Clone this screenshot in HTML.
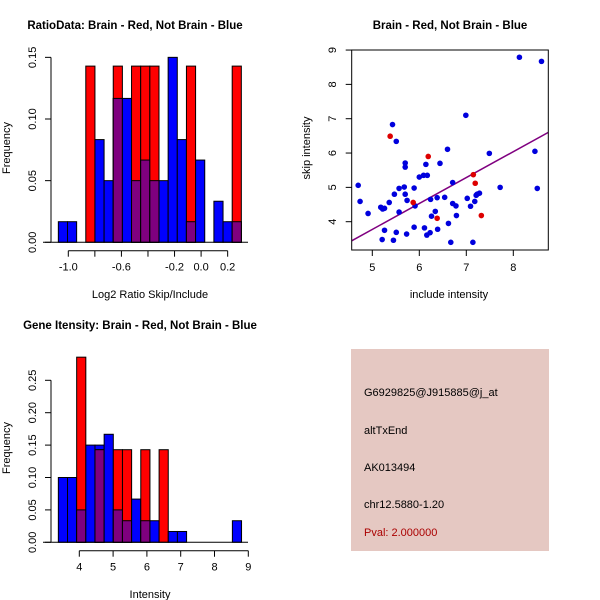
<!DOCTYPE html>
<html><head><meta charset="utf-8"><style>
body{margin:0;background:#fff}
svg{display:block;font-family:"Liberation Sans",sans-serif}
</style></head><body>
<svg id="s" width="600" height="600" xmlns="http://www.w3.org/2000/svg">
<rect width="600" height="600" fill="#fff"/>
<rect x="351" y="349" width="198" height="202" fill="#e5c8c2"/>
<g font-size="11" fill="#000">
<text x="364" y="396">G6929825@J915885@j_at</text>
<text x="364" y="434">altTxEnd</text>
<text x="364" y="471">AK013494</text>
<text x="364" y="508">chr12.5880-1.20</text>
<text x="364" y="536" fill="#aa0000">Pval: 2.000000</text>
</g>
</svg>
<script>
// Ratio histogram data
const ratioStart = -1.075, ratioWidth = 0.0689;
const ratioBlue = [0.0167,0.0167,0,0,0.0833,0.05,0.1167,0.1167,0.05,0.0667,0.05,0.05,0.15,0.0833,0.0167,0.0667,0,0.0333,0.0167,0.0167];
const ratioRed  = [0,0,0,0.1429,0,0,0.1429,0,0.1429,0.1429,0.1429,0,0,0,0.1429,0,0,0,0,0.1429];
const ratioXTicks = [-1.0,-0.8,-0.6,-0.4,-0.2,0.0,0.2];
const ratioXLabels = ["-1.0","","-0.6","","-0.2","0.0","0.2"];
const ratioYTicks = [0,0.05,0.10,0.15];
const ratioYLabels = ["0.00","0.05","0.10","0.15"];
// Intensity histogram data
const intStart = 3.38, intWidth = 0.271;
const intBlue = [0.1,0.1,0.05,0.15,0.15,0.1667,0.05,0.0333,0.0667,0.0333,0.0333,0,0.0167,0.0167,0,0,0,0,0,0.0333];
const intRed  = [0,0,0.2857,0,0.1429,0,0.1429,0.1429,0,0.1429,0,0.1429,0,0,0,0,0,0,0,0];
const intXTicks = [4,5,6,7,8,9];
const intYTicks = [0,0.05,0.10,0.15,0.20,0.25];
const intYLabels = ["0.00","0.05","0.10","0.15","0.20","0.25"];
// Scatter data
const blueX = [4.70,4.74,4.91,5.18,5.22,5.26,5.36,5.47,5.57,5.57,5.68,5.70,5.70,5.70,5.74,5.73,5.89,5.89,5.91,6.00,6.09,6.14,6.17,6.16,6.11,6.23,6.24,6.26,6.34,6.38,6.39,6.44,6.54,6.60,6.62,6.67,6.71,6.71,6.78,6.79,6.99,7.02,7.09,7.18,7.21,7.23,7.28,7.49,7.72,8.13,8.46,8.51,8.60,5.43,5.51,5.21,5.26,5.51,5.45,7.14];
const blueY = [5.06,4.59,4.24,4.42,4.37,4.39,4.56,4.80,4.28,4.97,5.01,4.80,5.59,5.71,4.62,3.64,4.98,3.84,4.46,5.30,5.35,5.67,5.35,3.61,3.82,3.68,4.65,4.16,4.30,4.70,3.78,5.70,4.71,6.11,3.95,3.40,5.14,4.53,4.46,4.18,7.10,4.68,4.45,4.59,4.77,4.80,4.83,5.99,5.00,8.79,6.05,4.97,8.67,6.83,6.34,3.48,3.75,3.69,3.46,3.40];
const redX = [5.38,6.19,5.87,6.38,7.15,7.19,7.32];
const redY = [6.49,5.90,4.56,4.10,5.37,5.12,4.18];
const fitIntercept = 0.0, fitSlope = 0.755;
const scXTicks = [5,6,7,8];
const scYTicks = [4,5,6,7,8,9];

const NS="http://www.w3.org/2000/svg", svg=document.getElementById('s');
function mk(t,a,p){const e=document.createElementNS(NS,t);for(const k in a)e.setAttribute(k,a[k]);(p||svg).appendChild(e);return e;}
function txt(p,x,y,s,o){const e=mk('text',Object.assign({x:x,y:y,'font-size':11,'text-anchor':'middle'},o||{}),p);e.textContent=s;return e;}

function hist(g,sx,sy,start,w,blue,red){
  for(let i=0;i<blue.length;i++){
    const a=start+i*w,b=a+w,bv=blue[i],rv=red[i];
    if(bv>0){const r=mk('rect',{x:sx(a),y:sy(bv),width:sx(b)-sx(a),height:sy(0)-sy(bv),fill:'#0000ff',stroke:'#000','stroke-width':1},g);
      
      }
    if(rv>0){const r=mk('rect',{x:sx(a),y:sy(rv),width:sx(b)-sx(a),height:sy(0)-sy(rv),fill:'#ff0000',stroke:'#000','stroke-width':1},g);
      
      }
    const m=Math.min(bv,rv);
    if(m>0){const r=mk('rect',{x:sx(a),y:sy(m),width:sx(b)-sx(a),height:sy(0)-sy(m),fill:'#7f007f',stroke:'#000','stroke-width':1},g);
      
      }
  }
  mk('line',{x1:43,x2:248,y1:sy(0),y2:sy(0),stroke:'#000'},g);
}
function yaxis(g,sy,x,ticks,labels){
  mk('line',{x1:x,x2:x,y1:sy(ticks[0]),y2:sy(ticks[ticks.length-1]),stroke:'#000'},g);
  ticks.forEach((t,i)=>{mk('line',{x1:x,x2:x-6,y1:sy(t),y2:sy(t),stroke:'#000'},g);
    txt(g,x-15,sy(t),labels[i],{transform:`rotate(-90 ${x-15} ${sy(t)})`});});
}
function xaxis(g,sx,y,ticks,labels){
  mk('line',{x1:sx(ticks[0]),x2:sx(ticks[ticks.length-1]),y1:y,y2:y,stroke:'#000'},g);
  ticks.forEach((t,i)=>{mk('line',{x1:sx(t),x2:sx(t),y1:y,y2:y+6,stroke:'#000'},g);txt(g,sx(t),y+20,labels[i]);});
}

// Panel 1
{const g=mk('g',{});
 const sx=v=>68.3+(v+1.0)*132.8, sy=v=>242.3-v*1233;
 hist(g,sx,sy,ratioStart,ratioWidth,ratioBlue,ratioRed);
 yaxis(g,sy,51,ratioYTicks,ratioYLabels);
 xaxis(g,sx,250.7,ratioXTicks,ratioXLabels);
 txt(g,135,29,'RatioData: Brain - Red, Not Brain - Blue',{'font-weight':'bold','font-size':11.5});
 txt(g,150,298,'Log2 Ratio Skip/Include');
 txt(g,10,148,'Frequency',{transform:'rotate(-90 10 148)'});}

// Panel 3
{const g=mk('g',{});
 const sx=v=>79.3+(v-4)*33.8, sy=v=>542.3-v*648;
 hist(g,sx,sy,intStart,intWidth,intBlue,intRed);
 yaxis(g,sy,51,intYTicks,intYLabels);
 xaxis(g,sx,550.7,intXTicks,intXTicks.map(String));
 txt(g,140,329,'Gene Itensity: Brain - Red, Not Brain - Blue',{'font-weight':'bold','font-size':11.5});
 txt(g,150,598,'Intensity');
 txt(g,10,448,'Frequency',{transform:'rotate(-90 10 448)'});}

// Panel 2
{const g=mk('g',{});
 const sx=v=>372.3+(v-5)*47, sy=v=>221.7-(v-4)*34.33;
 const cp=mk('clipPath',{id:'cp'},g);mk('rect',{x:351.7,y:50,width:196.6,height:200},cp);
 const xl=(351.7-372.3)/47+5, xr=(548.3-372.3)/47+5;
 const ln=mk('line',{x1:sx(xl),y1:sy(fitIntercept+fitSlope*xl),x2:sx(xr),y2:sy(fitIntercept+fitSlope*xr),stroke:'#800080','stroke-width':1.5,'clip-path':'url(#cp)'},g);
 
 
 blueX.forEach((x,i)=>{const c=mk('circle',{cx:sx(x),cy:sy(blueY[i]),r:2.8,fill:'#0000dd'},g);
   
   });
 redX.forEach((x,i)=>{const c=mk('circle',{cx:sx(x),cy:sy(redY[i]),r:2.8,fill:'#dd0000'},g);
   
   });
 mk('rect',{x:351.7,y:50,width:196.6,height:200,fill:'none',stroke:'#000'},g);
 scXTicks.forEach(t=>{mk('line',{x1:sx(t),x2:sx(t),y1:250,y2:256,stroke:'#000'},g);txt(g,sx(t),271,String(t));});
 scYTicks.forEach(t=>{mk('line',{x1:351.7,x2:345.7,y1:sy(t),y2:sy(t),stroke:'#000'},g);txt(g,336,sy(t),String(t),{transform:`rotate(-90 336 ${sy(t)})`});});
 txt(g,450,29,'Brain - Red, Not Brain - Blue',{'font-weight':'bold','font-size':11.5});
 txt(g,449,298,'include intensity');
 txt(g,310,148,'skip intensity',{transform:'rotate(-90 310 148)'});}
</script>
</body></html>
